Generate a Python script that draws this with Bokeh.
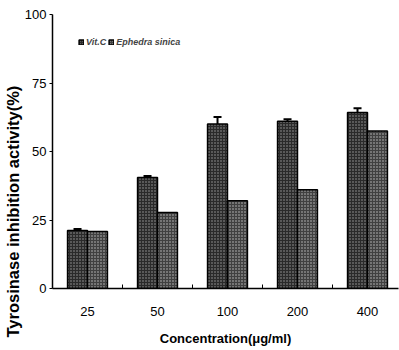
from bokeh.plotting import figure
from bokeh.models import ColumnDataSource, FixedTicker, Whisker, TeeHead, Title, Legend, LegendItem
from bokeh.embed import file_html
from bokeh.resources import INLINE

categories = ["25", "50", "100", "200", "400"]
vitc = [21.2, 40.5, 60.0, 61.0, 64.2]
vitc_err = [0.5, 0.6, 2.6, 0.8, 1.6]
ephedra = [20.8, 27.7, 32.0, 36.0, 57.5]
y_ticks = [0, 25, 50, 75, 100]

xpos = [i + 1 for i in range(len(categories))]
bw = 0.285
src = ColumnDataSource(dict(
    xv=[x - bw / 2 for x in xpos],
    xe=[x + bw / 2 for x in xpos],
    vitc=vitc,
    ephedra=ephedra,
    upper=[v + e for v, e in zip(vitc, vitc_err)],
    lower=vitc,
))

p = figure(width=399, height=350, output_backend="svg", toolbar_location=None,
           x_range=(0.5, 5.443), y_range=(0, 100),
           min_border_left=52, min_border_right=1, min_border_top=14, min_border_bottom=62)
p.xgrid.visible = False
p.ygrid.visible = False
p.outline_line_color = None
p.background_fill_color = "white"

r1 = p.vbar(x="xv", top="vitc", width=bw, source=src, fill_color="#2a2a2a",
            line_color="black", line_width=1.5,
            hatch_pattern="dot", hatch_color="#a0a0a0", hatch_scale=3, hatch_weight=1)
r2 = p.vbar(x="xe", top="ephedra", width=bw, source=src, fill_color="#404040",
            line_color="black", line_width=1.5,
            hatch_pattern="dot", hatch_color="#c4c4c4", hatch_scale=3, hatch_weight=1)

w = Whisker(source=src, base="xv", upper="upper", lower="lower", line_color="black",
            line_width=2,
            upper_head=TeeHead(size=8, line_width=2, line_color="black"),
            lower_head=None)
p.add_layout(w)

legend = Legend(items=[LegendItem(label="Vit.C", renderers=[r1]),
                       LegendItem(label="Ephedra sinica", renderers=[r2])],
                orientation="horizontal", location=(26, 241),
                padding=0, margin=0, spacing=2, label_standoff=2,
                glyph_width=6, glyph_height=6, label_height=8,
                label_text_font="Liberation Sans", label_text_font_style="bold italic",
                label_text_font_size="9px", border_line_color=None,
                background_fill_alpha=0)
p.add_layout(legend)

# x axis
xt = FixedTicker(ticks=xpos, minor_ticks=[1.5, 2.5, 3.5, 4.5])
p.xaxis.ticker = xt
p.xaxis.major_label_overrides = {x: c for x, c in zip(xpos, categories)}
p.xaxis.major_tick_line_color = None
p.xaxis.major_tick_out = 0
p.xaxis.major_tick_in = 0
p.xaxis.minor_tick_in = 4
p.xaxis.minor_tick_out = 0
p.xaxis.minor_tick_line_color = "black"
p.xaxis.axis_line_color = "black"
p.xaxis.axis_line_width = 1.5
p.xaxis.major_label_standoff = 18
p.xaxis.major_label_text_font = "Liberation Sans"
p.xaxis.major_label_text_font_size = "13px"
p.xaxis.major_label_text_color = "black"
p.xaxis.axis_label = "Concentration(μg/ml)"
p.xaxis.axis_label_text_font = "Liberation Sans"
p.xaxis.axis_label_text_font_size = "13px"
p.xaxis.axis_label_text_font_style = "bold"
p.xaxis.axis_label_standoff = 12
p.xaxis.axis_label_text_color = "black"

# y axis
p.yaxis.ticker = FixedTicker(ticks=y_ticks)
p.yaxis.minor_tick_line_color = None
p.yaxis.major_tick_out = 3
p.yaxis.major_tick_in = 0
p.yaxis.major_tick_line_color = "black"
p.yaxis.axis_line_color = "black"
p.yaxis.axis_line_width = 1.5
p.yaxis.major_label_standoff = 3
p.yaxis.major_label_text_font = "Liberation Sans"
p.yaxis.major_label_text_font_size = "13px"
p.yaxis.major_label_text_color = "black"

ytitle = Title(text="Tyrosinase inhibition activity(%)", align="left", offset=-49,
               text_font="Liberation Sans", text_font_style="bold",
               text_font_size="16.5px", text_color="black", standoff=0)
p.add_layout(ytitle, "left")

open("out.html", "w").write(file_html(p, INLINE))
